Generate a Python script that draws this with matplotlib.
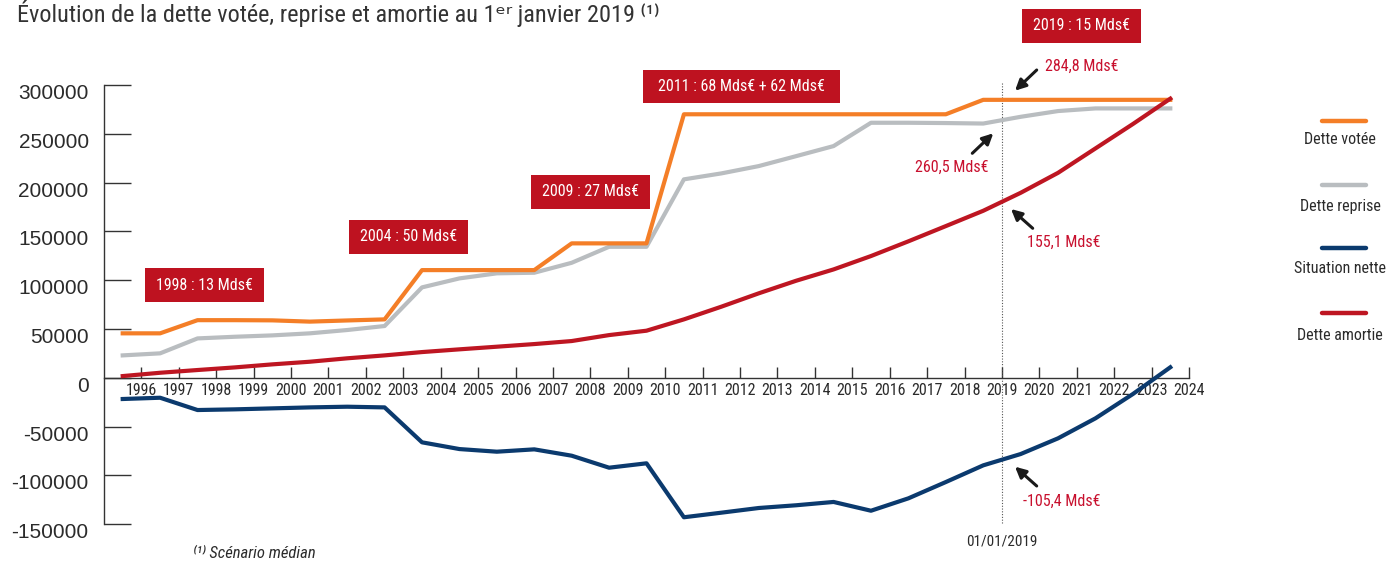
import numpy as np
import matplotlib
matplotlib.use("Agg")
import matplotlib.pyplot as plt
from matplotlib import font_manager as fm
from matplotlib.lines import Line2D
from matplotlib.patches import Rectangle, FancyArrowPatch
from matplotlib.transforms import ScaledTranslation

# ---------------- data ----------------
year_labels = [str(y) for y in range(1996, 2025)]
tick_years = list(range(1996, 2025))
point_years = [y - 0.5 for y in range(1996, 2025)]

dette_votee = [45500, 45500, 59000, 59000, 58800, 57500, 58700, 59800,
               110300, 110300, 110300, 110300, 137700, 137700, 137700,
               270000, 270000, 270000, 270000, 270000, 270000, 270000, 270000,
               284800, 284800, 284800, 284800, 284800, 284800]
dette_reprise = [22900, 25000, 40300, 42000, 43400, 45500, 48900, 53000,
                 92600, 101800, 107000, 107600, 117800, 134200, 134200,
                 203300, 209400, 216900, 227100, 237400, 261300, 261300, 261000,
                 260500, 267400, 273300, 276000, 276000, 276000]
situation_nette = [-21800, -20500, -33100, -32400, -31400, -30400, -29700, -30400,
                   -66200, -73100, -75800, -73400, -79900, -92200, -87700,
                   -143000, -138300, -133500, -130700, -127300, -136300, -123600, -106900,
                   -89800, -78200, -62100, -41600, -16700, 10700]
dette_amortie = [1700, 5100, 7900, 10600, 13700, 16400, 19900, 22900,
                 26300, 29100, 31800, 34500, 37600, 43700, 48200,
                 59800, 72800, 86500, 99400, 111000, 124700, 139800, 155400,
                 171100, 189500, 210000, 235000, 260000, 286000]

y_ticks = [-150000, -100000, -50000, 0, 50000, 100000, 150000, 200000, 250000, 300000]
y_tick_labels = [str(v) for v in y_ticks]

series_names = ["Dette votée", "Dette reprise", "Situation nette", "Dette amortie"]

events = ["1998 : 13 Mds€", "2004 : 50 Mds€", "2009 : 27 Mds€",
          "2011 : 68 Mds€ + 62 Mds€", "2019 : 15 Mds€"]
callouts = ["284,8 Mds€", "260,5 Mds€", "155,1 Mds€", "-105,4 Mds€"]

# ---------------- style ----------------
C_ORANGE = "#F47E27"
C_GREY = "#B9BDC0"
C_NAVY = "#0B3A6E"
C_RED = "#BE1622"
C_BOX = "#BE1220"
C_TXT = "#2b2b2b"


def find_narrow(italic=False):
    prefs = ["LiberationSansNarrow", "RobotoCondensed", "DejaVuSansCondensed",
             "OpenSansCondensed", "Condensed", "Narrow"]
    files = [f.fname for f in fm.fontManager.ttflist]
    for p in prefs:
        cands = [f for f in files if p.lower() in f.replace("-", "").replace(" ", "").replace("_", "").lower()]
        if not cands:
            continue
        if italic:
            sel = [f for f in cands if ("italic" in f.lower() or "oblique" in f.lower())
                   and "bold" not in f.lower()]
        else:
            sel = [f for f in cands if "regular" in f.lower() or
                   all(k not in f.lower() for k in ["bold", "italic", "oblique", "light",
                                                     "thin", "medium", "black"])]
        if sel:
            return sorted(sel, key=len)[0]
    return None


narrow_file = find_narrow()
narrow_it_file = find_narrow(italic=True)
NARROW_FAMILY = fm.FontProperties(fname=narrow_file).get_name() if narrow_file else "Liberation Sans"


def NF(size, italic=False):
    f = narrow_it_file if italic else narrow_file
    if f:
        return fm.FontProperties(fname=f, size=size)
    return fm.FontProperties(family=["Liberation Sans", "DejaVu Sans"], size=size * 0.86,
                             style="italic" if italic else "normal")


REG = ["Liberation Sans", "DejaVu Sans"]

W, H = 1391, 563
fig = plt.figure(figsize=(W / 100, H / 100), dpi=100)


def fx(px):
    return px / W


def fy(py):
    return 1 - py / H


ax = fig.add_axes([fx(104), fy(524.1), fx(1189) - fx(104), fy(85) - fy(524.1)])
ax.set_xlim(1995, 2024)
ax.set_ylim(-150000, 300000)

for s in ["top", "right"]:
    ax.spines[s].set_visible(False)
ax.spines["left"].set_color("#333333")
ax.spines["left"].set_linewidth(1.0)
ax.spines["bottom"].set_position(("data", 0))
ax.spines["bottom"].set_color("#333333")
ax.spines["bottom"].set_linewidth(1.0)

ax.set_yticks(y_ticks)
ax.set_yticklabels(y_tick_labels, fontsize=15, family=REG, color=C_TXT)
ax.tick_params(axis="y", direction="in", length=19.5, width=1.0, color="#333333", pad=11)
for lab in ax.get_yticklabels():
    lab.set_transform(lab.get_transform() + ScaledTranslation(0, -6.5 / 100, fig.dpi_scale_trans))

ax.set_xticks(tick_years)
ax.set_xticklabels(year_labels, color=C_TXT)
for lab in ax.get_xticklabels():
    lab.set_fontproperties(NF(11.5))
ax.tick_params(axis="x", direction="in", length=8, width=1.0, color="#333333", pad=3.5)

lw = 3.0
ax.plot(point_years, dette_reprise, color=C_GREY, lw=lw, clip_on=False, zorder=3)
ax.plot(point_years, dette_votee, color=C_ORANGE, lw=lw, clip_on=False, zorder=4)
ax.plot(point_years, situation_nette, color=C_NAVY, lw=lw, clip_on=False, zorder=5)
ax.plot(point_years, dette_amortie, color=C_RED, lw=lw, clip_on=False, zorder=6)

ax.plot([2019, 2019], [302000, -150000], color="#555555", lw=0.8, ls=(0, (1, 1.5)),
        clip_on=False, zorder=2)

boxes = [(145, 268.3, 264, 301.7), (349, 220, 467.7, 253.7), (531, 175, 650, 208.7),
         (643, 70, 840, 103.3), (1022, 9, 1141, 43)]
for (x0, y0, x1, y1), label in zip(boxes, events):
    fig.add_artist(Rectangle((fx(x0), fy(y1)), fx(x1) - fx(x0), fy(y0) - fy(y1),
                             transform=fig.transFigure, facecolor=C_BOX, edgecolor="none",
                             zorder=10))
    fig.text(fx((x0 + x1) / 2), fy((y0 + y1) / 2), label, ha="center", va="center",
             color="white", fontproperties=NF(11.5), zorder=11)

callout_pos = [(1082, 66.7), (951.5, 167), (1064, 242), (1062, 501)]
arrows = [((1036.7, 70), (1015, 90.7)), ((972.3, 153.3), (993.3, 133.3)),
          ((1032.7, 228.3), (1011, 209)), ((1036.7, 486), (1015, 466.7))]
for (tx, ty), label, (tail, head) in zip(callout_pos, callouts, arrows):
    fig.text(fx(tx), fy(ty), label, ha="center", va="center", color="#C8102E",
             fontproperties=NF(11.5))
    fig.add_artist(FancyArrowPatch(
        (fx(tail[0]), fy(tail[1])), (fx(head[0]), fy(head[1])),
        transform=fig.transFigure, arrowstyle="-|>", mutation_scale=16,
        lw=2.2, color="#1a1a1a", shrinkA=0, shrinkB=0))

fig.text(fx(1002), fy(542), "01/01/2019", ha="center", va="center", color=C_TXT,
         fontproperties=NF(11))

leg_colors = [C_ORANGE, C_GREY, C_NAVY, C_RED]
leg_line_y = [120.7, 185, 248.3, 313.3]
leg_text_y = [140, 206, 268.3, 335]
for name, col, ly, ty in zip(series_names, leg_colors, leg_line_y, leg_text_y):
    fig.add_artist(Line2D([fx(1322), fx(1366)], [fy(ly), fy(ly)], transform=fig.transFigure,
                          color=col, lw=3.2, solid_capstyle="round"))
    fig.text(fx(1340), fy(ty), name, ha="center", va="center", color=C_TXT,
             fontproperties=NF(11.5))

# title (with a fallback family for the superscript letters)
fig.text(fx(17), fy(22), "Évolution de la dette votée, reprise et amortie au 1ᵉʳ janvier 2019 ⁽¹⁾",
         ha="left", va="baseline", color="#333333", fontsize=17.5,
         family=[NARROW_FAMILY, "DejaVu Sans"])

fig.text(fx(193), fy(553), "⁽¹⁾ Scénario médian", ha="left", va="center", color=C_TXT,
         fontproperties=NF(12, italic=True))

fig.savefig("out.png", dpi=100)
